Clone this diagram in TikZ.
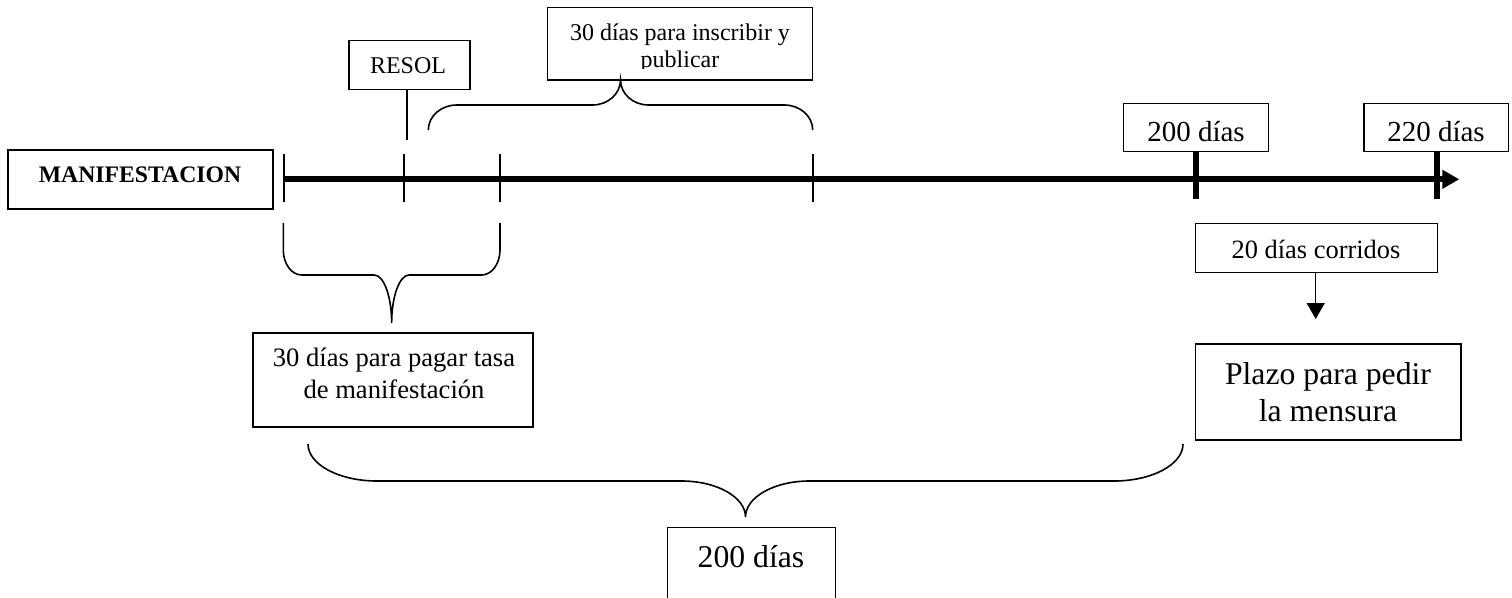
\documentclass[tikz,border=0pt]{standalone}
\usepackage{fontspec}
\setmainfont{Liberation Serif}
\usetikzlibrary{arrows.meta}
\newcommand\fsz[1]{\fontsize{#1}{#1}\selectfont}
% #1 x0, #2 x1, #3 arm end y, #4 corner start y, #5 flat y, #6 corner rx, #7 cusp half width, #8 tip y
\newcommand\mybrace[8]{%
  \draw[bracestyle] (#1,#3) -- (#1,#4)
    .. controls (#1,{#4+0.552*(#5-#4)}) and ({#1+0.448*#6},#5) .. ({#1+#6},#5)
    -- ({(#1+#2)/2-#7},#5)
    .. controls ({(#1+#2)/2-0.448*#7},#5) and ({(#1+#2)/2},{#8-0.552*(#8-#5)}) .. ({(#1+#2)/2},#8)
    .. controls ({(#1+#2)/2},{#8-0.552*(#8-#5)}) and ({(#1+#2)/2+0.448*#7},#5) .. ({(#1+#2)/2+#7},#5)
    -- ({#2-#6},#5)
    .. controls ({#2-0.448*#6},#5) and (#2,{#4+0.552*(#5-#4)}) .. (#2,#4) -- (#2,#3);}
\begin{document}
\begin{tikzpicture}[x=1pt,y=-1pt,
  box/.style={draw,line width=1.5pt,inner sep=0pt,rectangle},
  txt/.style={anchor=base,inner sep=0pt},
  thintick/.style={line width=1.6pt},
  thicktick/.style={line width=6pt},
  bracestyle/.style={line width=1.6pt},
  axis/.style={line width=6pt,-{Triangle[length=17pt,width=18pt]}},
  conn/.style={line width=1.5pt,-{Triangle[length=16pt,width=18pt]}}]
\path[use as bounding box,clip] (0,0) rectangle (1512,597);
% boxes
\node[box,minimum width=265pt,minimum height=59pt] (man) at (140.5,179.5) {};
\node[box,minimum width=121pt,minimum height=48.6pt] (resol) at (409.5,65) {};
\node[box,minimum width=265pt,minimum height=72.7pt] (insc) at (680.2,43.65) {};
\node[box,minimum width=145pt,minimum height=48.4pt] (d200) at (1195.8,127.5) {};
\node[box,minimum width=144.3pt,minimum height=48.4pt] (d220) at (1436.2,127.5) {};
\node[box,minimum width=241.6pt,minimum height=49pt] (c20) at (1316.5,247.8) {};
\node[box,minimum width=265.3pt,minimum height=96pt] (plazo) at (1328.3,392) {};
\node[box,minimum width=280pt,minimum height=94pt] (pagar) at (393,380) {};
\node[box,minimum width=168.4pt,minimum height=92.7pt] (d200b) at (751.5,573.7) {};
% texts
\node[txt] (mant) at (140,182.7) {\fsz{23.7}\bfseries MANIFESTACION};
\node[txt] (resolt) at (408,73.6) {\fsz{24}RESOL};
\node[txt] (insct1) at (680,40.2) {\fsz{24}30 días para inscribir y};
\begin{scope}
\clip (547.7,7.3) rectangle (812.7,68.6);
\node[txt] (insct2) at (680,67.8) {\fsz{24}publicar};
\end{scope}
\node[txt] (d200t) at (1196,141.2) {\fsz{29}200 días};
\node[txt] (d220t) at (1436,141.2) {\fsz{29}220 días};
\node[txt] (c20t) at (1316,258.8) {\fsz{26.4}20 días corridos};
\node[txt] (plazot1) at (1328,384.5) {\fsz{31.7}Plazo para pedir};
\node[txt] (plazot2) at (1328,421.5) {\fsz{31.7}la mensura};
\node[txt] (pagart1) at (394,366.7) {\fsz{26.6}30 días para pagar tasa};
\node[txt] (pagart2) at (394,398) {\fsz{26.6}de manifestación};
\node[txt] (d200bt) at (751,567.5) {\fsz{31.7}200 días};
% axis
\coordinate (axstart) at (284,179.3);
\coordinate (axend) at (1459.3,179.3);
\draw[axis] (axstart) -- (axend);
% thin ticks
\foreach \xx in {284,404,500,812.7}{\draw[thintick] (\xx,154) -- (\xx,202);}
% RESOL tick
\coordinate (resolend) at (406.7,140);
\draw[thintick] (resolend |- resol.south) -- (resolend);
% thick ticks
\coordinate (t200) at (1196,199);
\coordinate (t220) at (1436.7,199);
\draw[thicktick] (t200 |- d200.south) -- (t200);
\draw[thicktick] (t220 |- d220.south) -- (t220);
% arrow to plazo
\coordinate (arrend) at (1315.7,319);
\draw[conn] (arrend |- c20.south) -- (arrend);
% braces
\mybrace{428.3}{812.7}{130}{130}{105}{28.4}{28}{80}
\mybrace{283.3}{500}{223}{250}{275}{18.4}{17.5}{323}
\mybrace{308}{1183}{444}{444}{481}{69}{64}{517}
\end{tikzpicture}
\end{document}
